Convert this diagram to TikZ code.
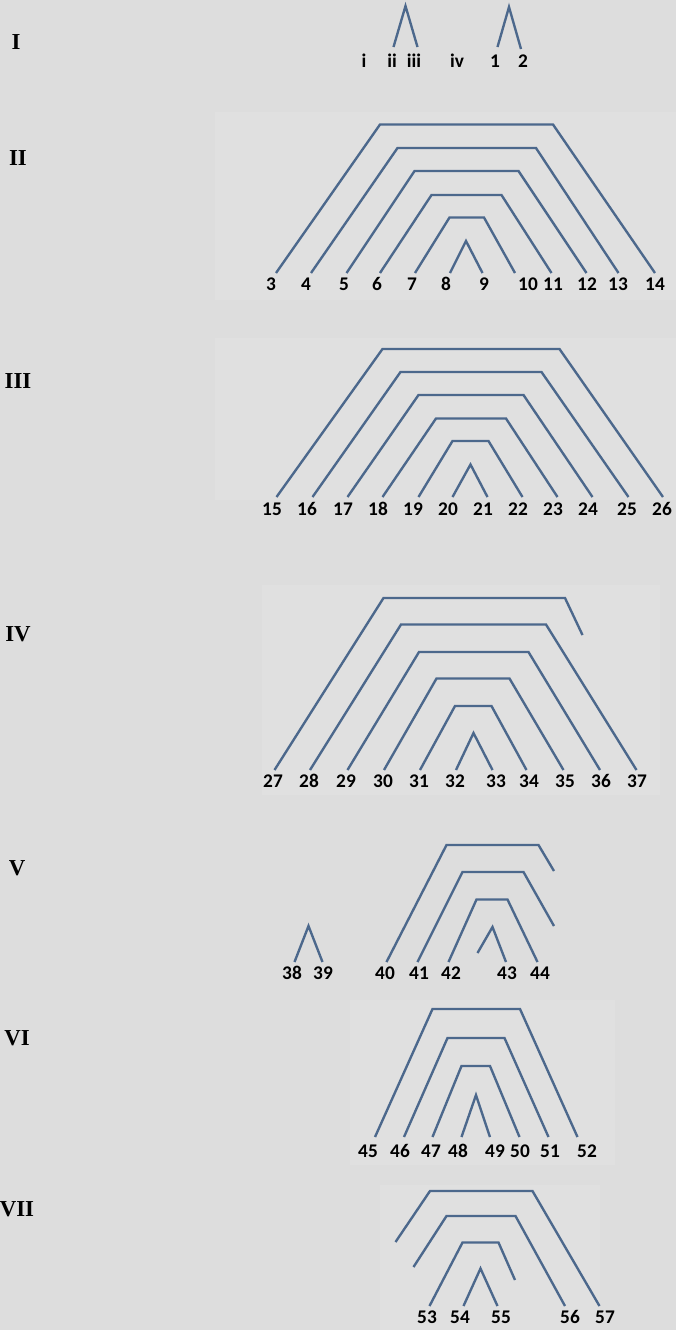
\documentclass[tikz,border=0pt]{standalone}
\usepackage{fontspec}
\setmainfont{Liberation Serif}
\newfontfamily\labfont{Carlito}
\definecolor{bgc}{RGB}{221,221,221}
\definecolor{panelc}{RGB}{224,224,224}
\definecolor{arcc}{RGB}{76,104,140}
\begin{document}
\begin{tikzpicture}[x=0.02cm,y=-0.02cm,
  arc/.style={draw=arcc,line width=1.35pt,line join=miter},
  lab/.style={inner sep=0pt,anchor=base,font=\labfont\bfseries\fontsize{11}{13}\selectfont,text=black},
  rom/.style={inner sep=0pt,anchor=base,font=\bfseries\fontsize{13}{15}\selectfont,text=black}]
\useasboundingbox (0,0) rectangle (676,1330);
\fill[bgc] (0,0) rectangle (676,1330);
% faint scan panels
\fill[panelc] (215,112) rectangle (676,300);
\fill[panelc] (215,338) rectangle (676,500);
\fill[panelc] (262,585) rectangle (660,795);
\fill[panelc] (350,1000) rectangle (615,1165);
\fill[panelc] (380,1185) rectangle (600,1330);

% Roman numerals
\node[rom] (rI) at (16,49) {I};
\node[rom] (rII) at (18,165) {II};
\node[rom] (rIII) at (18,388) {III};
\node[rom] (rIV) at (18,641) {IV};
\node[rom] (rV) at (17,875) {V};
\node[rom] (rVI) at (17,1045) {VI};
\node[rom] (rVII) at (17,1216) {VII};

% Row I
\node[lab] (li) at (364,67) {i};
\node[lab] (lii) at (392,67) {ii};
\node[lab] (liii) at (414,67) {iii};
\node[lab] (liv) at (457,67) {iv};
\node[lab] (l1) at (495,67) {1};
\node[lab] (l2) at (523,67) {2};
\draw[arc] (393.5,47) -- (405.5,6) -- (417.5,47);
\draw[arc] (497.5,47) -- (509,7) -- (521,49);

% Row II
\foreach \n/\x in {3/271,4/306,5/344,6/377,7/412,8/446,9/484,10/528,11/553,12/587,13/618,14/655}
  \node[lab] (l\n) at (\x,290) {\n};
\draw[arc] (276,273) -- (380,124.5) -- (553,124.5) -- (655,273);
\draw[arc] (311,273) -- (397.5,148) -- (536,148) -- (618.5,273);
\draw[arc] (346.5,273) -- (414.5,171) -- (518.5,171) -- (586.5,273);
\draw[arc] (380,273) -- (431.5,195) -- (501.5,195) -- (551.5,273);
\draw[arc] (415,273) -- (449.5,217.5) -- (484,217.5) -- (515,273);
\draw[arc] (450,273) -- (466,241) -- (482.5,273);

% Row III
\foreach \n/\x in {15/272,16/307,17/343,18/378,19/413,20/448,21/483,22/518,23/553,24/588,25/627,26/662}
  \node[lab] (l\n) at (\x,515) {\n};
\draw[arc] (276.5,497) -- (382.5,349) -- (559.5,349) -- (663,497);
\draw[arc] (312.5,497) -- (400.5,372) -- (541.5,372) -- (628.5,497);
\draw[arc] (347.5,497) -- (418.5,395) -- (523.5,395) -- (592.5,497);
\draw[arc] (382.5,497) -- (436,418.5) -- (506,418.5) -- (557.5,497);
\draw[arc] (418.5,497) -- (452.5,441) -- (488.5,441) -- (522.5,497);
\draw[arc] (452.5,497) -- (470.5,464.5) -- (487.5,497);

% Row IV
\foreach \n/\x in {27/273,28/309,29/346,30/383,31/419,32/455,33/496,34/529,35/565,36/601,37/637}
  \node[lab] (l\n) at (\x,787) {\n};
\draw[arc] (274.5,770) -- (383.5,598) -- (565,598) -- (582.5,635);
\draw[arc] (310,770) -- (401,624.5) -- (546,624.5) -- (636.5,770);
\draw[arc] (347.5,770) -- (419,652) -- (528.5,652) -- (600,770);
\draw[arc] (384,770) -- (436.5,678.5) -- (509.5,678.5) -- (563.5,770);
\draw[arc] (420,770) -- (455,706) -- (491.5,706) -- (526.5,770);
\draw[arc] (456,770) -- (473.5,733) -- (492.5,770);

% Row V
\foreach \n/\x in {38/292,39/323,40/385,41/419,42/451,43/507,44/540}
  \node[lab] (l\n) at (\x,979) {\n};
\draw[arc] (294.5,962) -- (308.5,926) -- (322.5,962);
\draw[arc] (386.5,962) -- (446.5,845) -- (538.5,845) -- (554,871);
\draw[arc] (417.5,962) -- (462.5,872) -- (523.5,872) -- (554,926);
\draw[arc] (448.5,962) -- (476.5,899.5) -- (507.5,899.5) -- (537.5,962);
\draw[arc] (477.5,953) -- (492.5,927) -- (506,962);

% Row VI
\foreach \n/\x in {45/368,46/400,47/431,48/458,49/495,50/520,51/550,52/587}
  \node[lab] (l\n) at (\x,1157) {\n};
\draw[arc] (375,1137) -- (432.5,1009) -- (520,1009) -- (577.5,1137);
\draw[arc] (404,1137) -- (447.5,1038) -- (504.5,1038) -- (548.5,1137);
\draw[arc] (432.5,1137) -- (461.5,1066) -- (490,1066) -- (519.5,1137);
\draw[arc] (461.5,1137) -- (476,1095) -- (490,1137);

% Row VII
\foreach \n/\x in {53/427,54/460,55/501,56/570,57/605}
  \node[lab] (l\n) at (\x,1323) {\n};
\draw[arc] (395.5,1242) -- (430,1191) -- (532.5,1191) -- (599.5,1306);
\draw[arc] (413.5,1267) -- (446.5,1216) -- (515.5,1216) -- (565,1306);
\draw[arc] (429.5,1306) -- (462.5,1242.5) -- (498.5,1242.5) -- (515,1280);
\draw[arc] (463.5,1306) -- (480.5,1268.5) -- (497.5,1306);
\end{tikzpicture}
\end{document}
